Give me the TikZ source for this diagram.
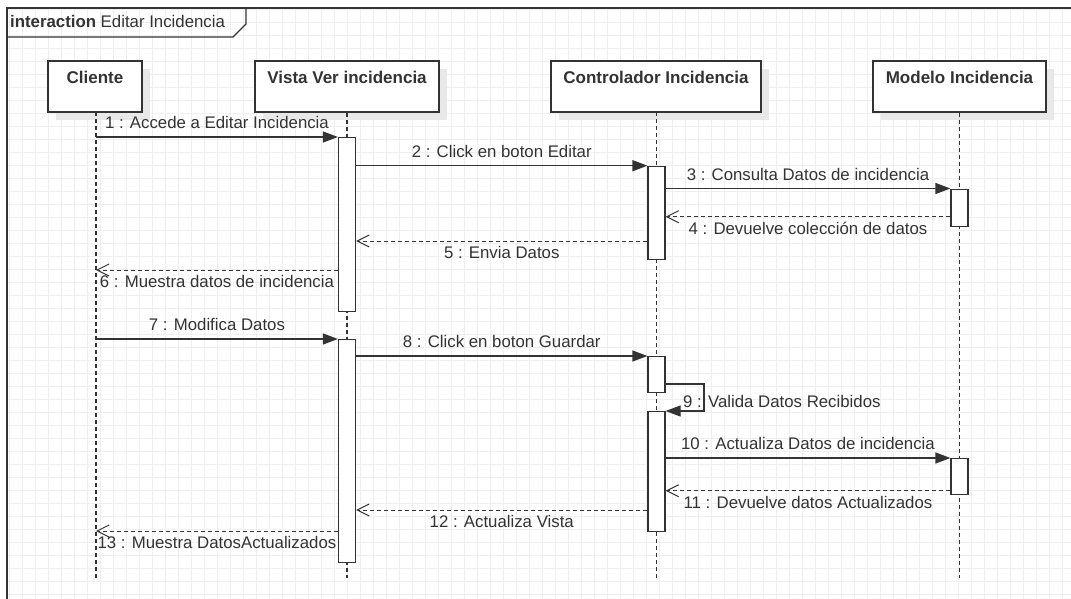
\documentclass[tikz,border=0pt]{standalone}
\usepackage{fontspec}
\setmainfont{Liberation Sans}
\usetikzlibrary{arrows.meta}
\definecolor{ink}{HTML}{333333}
\definecolor{gridc}{HTML}{EFEFEF}
\definecolor{shadowc}{HTML}{E8E8E8}
\begin{document}
\begin{tikzpicture}[x=1pt,y=-1pt,
  every node/.style={text=ink},
  txt/.style={font=\fontsize{16.8}{20}\selectfont},
  head/.style={draw=ink, line width=1.2pt, fill=white, minimum height=51pt, text height=12pt, text depth=18pt, inner sep=0pt, font=\fontsize{17}{20}\selectfont\bfseries},
  bar/.style={draw=ink, line width=1.2pt, fill=white, minimum width=17pt, inner sep=0pt, anchor=north},
  life/.style={draw=ink, line width=1.2pt, dash pattern=on 4pt off 3pt},
  sync/.style={draw=ink, line width=1.2pt, -{Triangle[length=15pt,width=11pt]}},
  ret/.style={draw=ink, line width=1pt, dash pattern=on 4pt off 3pt, -{Straight Barb[length=12pt,width=12pt,line width=1pt]}},
  fwd/.style={midway, anchor=base, yshift=8.5pt, txt, inner sep=0pt},
  bwd/.style={midway, anchor=base, yshift=-17.5pt, txt, inner sep=0pt}
]
\useasboundingbox (0,0) rectangle (1071,599);
\fill[white] (0,0) rectangle (1071,599);
% grid
\foreach \i in {0,...,81} {\draw[gridc, line width=0.8pt] (9.7+13*\i,8) -- (9.7+13*\i,599);}
\foreach \j in {0,...,45} {\draw[gridc, line width=0.8pt] (7,9.7+13*\j) -- (1071,9.7+13*\j);}
% frame
\draw[ink, line width=1.5pt] (1075,8) -- (7,8) -- (7,603);
\draw[ink, line width=1.2pt] (7,37) -- (233,37) -- (246,24) -- (246,8);
\node[txt, anchor=base west, inner sep=0pt] (title) at (10,28) {\textbf{interaction} Editar Incidencia};
% shadows
\fill[shadowc] (56,69) rectangle (150,120);
\fill[shadowc] (263,69) rectangle (447,120);
\fill[shadowc] (559,69) rectangle (769,120);
\fill[shadowc] (881,69) rectangle (1054,120);
% lifeline heads
\node[head, minimum width=94pt] (cli) at (95,86.5) {Cliente};
\node[head, minimum width=184pt] (vis) at (347,86.5) {Vista Ver incidencia};
\node[head, minimum width=210pt] (con) at (656,86.5) {Controlador Incidencia};
\node[head, minimum width=173pt] (mod) at (959.5,86.5) {Modelo Incidencia};
% lifeline ends
\coordinate (cliE) at (96,578);
\coordinate (visE) at (347,578);
\coordinate (conE) at (656.5,578);
\coordinate (modE) at (959.5,578);
\draw[life] (96,112) -- (cliE);
\draw[life] (vis.south) -- (visE);
\draw[life] (656.5,112) -- (conE);
\draw[life] (mod.south) -- (modE);
% activation bars
\node[bar, minimum height=174pt] (V1) at (347,137) {};
\node[bar, minimum height=223pt] (V2) at (347,339) {};
\node[bar, minimum height=93pt] (C1) at (656.5,165.7) {};
\node[bar, minimum height=36pt] (C2) at (656.5,356) {};
\node[bar, minimum height=120pt] (C3) at (656.5,411) {};
\node[bar, minimum height=37.5pt] (M1) at (959.5,188.5) {};
\node[bar, minimum height=36pt] (M2) at (959.5,458) {};
% client points
\coordinate (c1) at (96,137);
\coordinate (c6) at (96,270);
\coordinate (c7) at (96,339);
\coordinate (c13) at (96,531);
\coordinate (s9) at (704,384);
% messages
\draw[sync] (c1) -- (V1.north west) node[fwd] {1 : Accede a Editar Incidencia};
\draw[sync] (V1.east |- C1.north) -- (C1.north west) node[fwd] {2 : Click en boton Editar};
\draw[sync] (C1.east |- M1.north) -- (M1.north west) node[fwd] {3 : Consulta Datos de incidencia};
\draw[ret] (M1.west |- 0,216.7) -- (C1.east |- 0,216.7) node[bwd] {4 : Devuelve colección de datos};
\draw[ret] (C1.west |- 0,241) -- (V1.east |- 0,241) node[bwd] {5 : Envia Datos};
\draw[ret] (V1.west |- 0,270) -- (c6) node[bwd] {6 : Muestra datos de incidencia};
\draw[sync] (c7) -- (V2.north west) node[fwd] {7 : Modifica Datos};
\draw[sync] (V2.east |- C2.north) -- (C2.north west) node[fwd] {8 : Click en boton Guardar};
\draw[sync] (C2.east |- s9) -- (s9) -- (s9 |- C3.north) -- (C3.north east);
\node[txt, anchor=base west, inner sep=0pt] (l9) at (683,407) {9 : Valida Datos Recibidos};
\draw[sync] (C3.east |- M2.north) -- (M2.north west) node[fwd] {10 : Actualiza Datos de incidencia};
\draw[ret] (M2.west |- 0,490.7) -- (C3.east |- 0,490.7) node[bwd] {11 : Devuelve datos Actualizados};
\draw[ret] (C3.west |- 0,510) -- (V2.east |- 0,510) node[bwd] {12 : Actualiza Vista};
\draw[ret] (V2.west |- 0,531) -- (c13) node[bwd] {13 : Muestra DatosActualizados};
\end{tikzpicture}
\end{document}
